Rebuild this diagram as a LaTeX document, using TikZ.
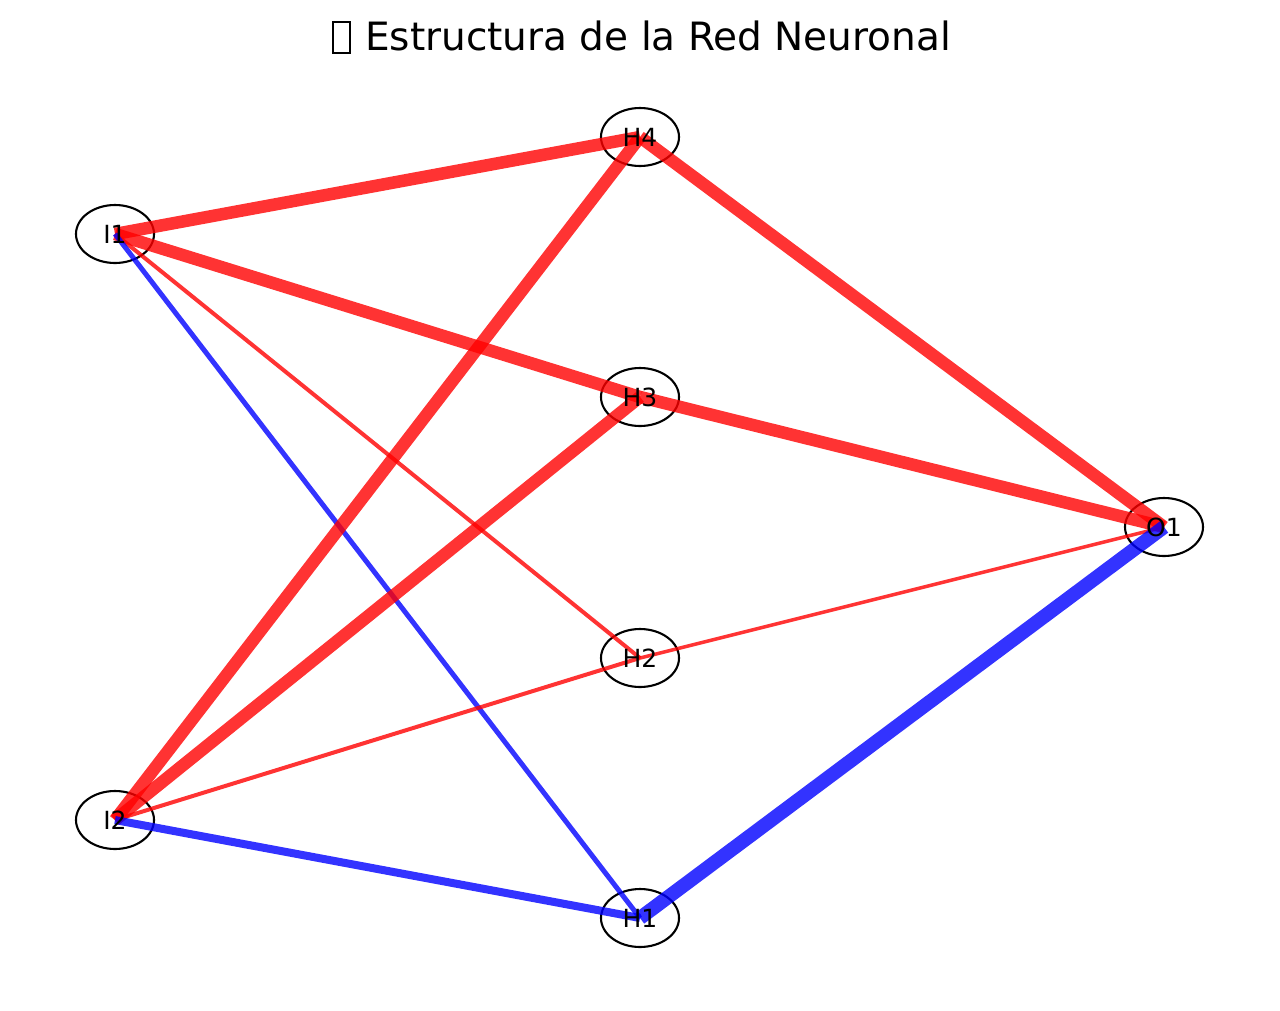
\documentclass[tikz,border=0pt]{standalone}
\usepackage{fontspec}
\setmainfont{DejaVu Sans}
\begin{document}
\begin{tikzpicture}[x=1pt,y=-1pt,
  ring/.style={line width=2.1pt,draw=black},
  lab/.style={font=\fontsize{25pt}{28pt}\selectfont,inner sep=0pt},
  posedge/.style={draw=red,draw opacity=0.8},
  negedge/.style={draw=blue,draw opacity=0.8}]
\useasboundingbox (0,0) rectangle (1280,1010);
\path[fill=white] (0,0) rectangle (1280,1010);
% nodes (outline only)
\foreach \n/\x/\y in {I1/115/234, I2/115/820, H4/640/137, H3/640/397, H2/640/658, H1/640/918, O1/1164/527}{
  \coordinate (\n) at (\x,\y);
  \draw[ring] (\x,\y) ellipse [x radius=39, y radius=29];
}
% edges
\draw[posedge,line width=12.5pt] (I1) -- (H4);
\draw[posedge,line width=12.5pt] (I1) -- (H3);
\draw[posedge,line width=4pt] (I1) -- (H2);
\draw[negedge,line width=5pt] (I1) -- (H1);
\draw[posedge,line width=12.5pt] (I2) -- (H4);
\draw[posedge,line width=12.5pt] (I2) -- (H3);
\draw[posedge,line width=4pt] (I2) -- (H2);
\draw[negedge,line width=8pt] (I2) -- (H1);
\draw[posedge,line width=12.5pt] (H4) -- (O1);
\draw[posedge,line width=12.5pt] (H3) -- (O1);
\draw[posedge,line width=3.5pt] (H2) -- (O1);
\draw[negedge,line width=14pt] (H1) -- (O1);
% labels
\foreach \n in {I1,I2,H4,H3,H2,H1,O1}{
  \node[lab] (l\n) at (\n) {\n};
}
% title
\node[font=\fontsize{39pt}{43pt}\selectfont,inner sep=0pt,anchor=base west] (title) at (365,50) {Estructura de la Red Neuronal};
\draw[line width=1.5pt] (333,22) rectangle (350,53);
\end{tikzpicture}
\end{document}
